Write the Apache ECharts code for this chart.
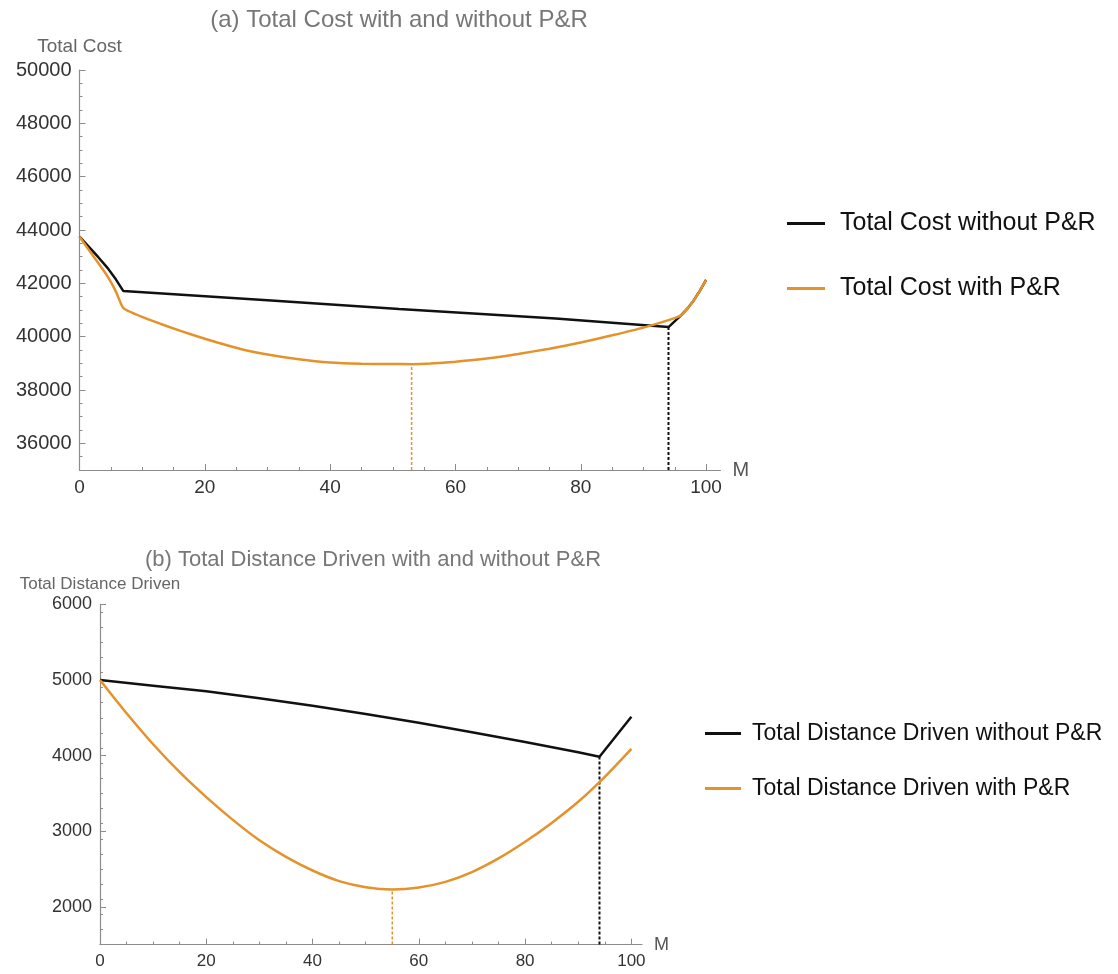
<!DOCTYPE html>
<html>
<head>
<meta charset="utf-8">
<script src="https://cdn.jsdelivr.net/npm/echarts@6/dist/echarts.min.js"></script>
<style>
html,body{margin:0;padding:0;background:#fff;}
#chart{width:1118px;height:974px;}
</style>
</head>
<body>
<div id="chart"></div>
<script>
// ---------- (a) Total Cost ----------
const costM_without = [0, 1.5, 3, 4.5, 5.8, 7, 30, 51, 76, 94, 96, 97, 98, 99, 100];
const cost_without  = [43750, 43370, 42980, 42570, 42150, 41710, 41370, 41040, 40680, 40360, 40800, 41050, 41350, 41720, 42130];
const costM_with = [0, 1.5, 3, 4.5, 5.8, 7, 10, 14, 18, 22, 26, 30, 35, 40, 45, 50, 53, 56, 60, 65, 70, 75, 80, 85, 90, 94, 96, 97, 98, 99, 100];
const cost_with  = [43750, 43250, 42760, 42250, 41700, 41070, 40740, 40390, 40070, 39780, 39520, 39330, 39150, 39030, 38985, 38975, 38970, 38990, 39060, 39180, 39350, 39550, 39780, 40050, 40340, 40620, 40800, 41050, 41350, 41720, 42130];
const costMinWith = [53, 38970];
const costMinWithout = [94, 40360];
const costYRange = [35000, 50000];
const costXRange = [0, 102.3];
const costXTicks = [0, 20, 40, 60, 80, 100];
const costXMinor = [5, 10, 15, 25, 30, 35, 45, 50, 55, 65, 70, 75, 85, 90, 95];
const costYTicks = [36000, 38000, 40000, 42000, 44000, 46000, 48000, 50000];

// ---------- (b) Total Distance Driven ----------
const distM_without = [0, 10, 20, 30, 40, 50, 60, 70, 80, 90, 94, 100];
const dist_without  = [5000, 4925, 4850, 4760, 4660, 4550, 4435, 4310, 4180, 4045, 3985, 4515];
const distM_with = [0, 5, 10, 15, 20, 25, 30, 35, 40, 45, 50, 55, 60, 65, 70, 75, 80, 85, 90, 95, 100];
const dist_with  = [5000, 4560, 4150, 3780, 3450, 3150, 2880, 2660, 2480, 2340, 2260, 2230, 2255, 2330, 2460, 2640, 2860, 3110, 3390, 3720, 4090];
const distMinWith = [55, 2230];
const distMinWithout = [94, 3985];
const distYRange = [1500, 6000];
const distXRange = [0, 102];
const distXTicks = [0, 20, 40, 60, 80, 100];
const distXMinor = [5, 10, 15, 25, 30, 35, 45, 50, 55, 65, 70, 75, 85, 90, 95];
const distYTicks = [2000, 3000, 4000, 5000, 6000];

const names = {
  costWithout: 'Total Cost without P&R',
  costWith: 'Total Cost with P&R',
  distWithout: 'Total Distance Driven without P&R',
  distWith: 'Total Distance Driven with P&R'
};

function minorBetween(range, step, majors) {
  const out = [];
  for (let v = range[0]; v <= range[1] + 1e-9; v += step) {
    if (majors.indexOf(v) < 0) out.push(v);
  }
  return out;
}
const costYMinor = minorBetween(costYRange, 500, costYTicks);
const distYMinor = minorBetween(distYRange, 200, distYTicks);

const zip = (xs, ys) => xs.map((x, i) => [x, ys[i]]);

const AX = '#8c8c8c';
const ORANGE = '#E5922A';
const BLACK = '#111111';
const FONT = 'Liberation Sans, Arial, sans-serif';

function mainX(grid, range, ticks, fs, gap) {
  return {
    type: 'value', gridIndex: grid, position: 'bottom', min: range[0], max: range[1],
    name: 'M', nameLocation: 'end', nameGap: gap,
    nameTextStyle: { color: '#555', fontSize: fs + 1, fontFamily: FONT, verticalAlign: 'middle' },
    axisLine: { show: true, onZero: false, lineStyle: { color: AX, width: 1.2 } },
    axisTick: { show: true, inside: true, length: 6, customValues: ticks, lineStyle: { color: AX } },
    axisLabel: { show: true, customValues: ticks, color: '#333', fontSize: fs, fontFamily: FONT, margin: 8, formatter: v => String(v) },
    splitLine: { show: false }
  };
}
function minorX(grid, range, ticks) {
  return {
    type: 'value', gridIndex: grid, position: 'bottom', min: range[0], max: range[1],
    axisLine: { show: false },
    axisTick: { show: true, inside: true, length: 3, customValues: ticks, lineStyle: { color: AX } },
    axisLabel: { show: false }, splitLine: { show: false }
  };
}
function mainY(grid, range, ticks, name, fs, nfs, gap) {
  return {
    type: 'value', gridIndex: grid, position: 'left', min: range[0], max: range[1],
    name: name, nameLocation: 'end', nameGap: gap,
    nameTextStyle: { color: '#666', fontSize: nfs, fontFamily: FONT, align: 'center' },
    axisLine: { show: true, onZero: false, lineStyle: { color: AX, width: 1.2 } },
    axisTick: { show: true, inside: true, length: 6, customValues: ticks, lineStyle: { color: AX } },
    axisLabel: { show: true, customValues: ticks, color: '#333', fontSize: fs, fontFamily: FONT, margin: 8, formatter: v => String(v) },
    splitLine: { show: false }
  };
}
function minorY(grid, range, ticks) {
  return {
    type: 'value', gridIndex: grid, position: 'left', min: range[0], max: range[1],
    axisLine: { show: false },
    axisTick: { show: true, inside: true, length: 3, customValues: ticks, lineStyle: { color: AX } },
    axisLabel: { show: false }, splitLine: { show: false }
  };
}
function dashed(xi, yi, pt, ymin, color, w) {
  return {
    type: 'line', xAxisIndex: xi, yAxisIndex: yi, symbol: 'none', silent: true, z: 1,
    data: [[pt[0], ymin], [pt[0], pt[1]]],
    lineStyle: { color: color, width: w, type: [3, 2] }
  };
}

const chart = echarts.init(document.getElementById('chart'), null, { renderer: 'canvas' });
chart.setOption({
  animation: false,
  backgroundColor: '#fff',
  title: [
    { text: '(a) Total Cost with and without P&R', left: 394, top: 3, textAlign: 'center',
      textStyle: { color: '#777', fontSize: 24, fontWeight: 'normal', fontFamily: FONT } },
    { text: '(b) Total Distance Driven with and without P&R', left: 368, top: 544, textAlign: 'center',
      textStyle: { color: '#777', fontSize: 22, fontWeight: 'normal', fontFamily: FONT } }
  ],
  legend: [
    { data: [names.costWithout, names.costWith], orient: 'vertical', left: 782, top: 206,
      icon: 'rect', itemWidth: 38, itemHeight: 3, itemGap: 40,
      textStyle: { color: '#111', fontSize: 25, fontFamily: FONT, padding: [0, 0, 0, 10] } },
    { data: [names.distWithout, names.distWith], orient: 'vertical', left: 700, top: 717,
      icon: 'rect', itemWidth: 36, itemHeight: 3, itemGap: 32,
      textStyle: { color: '#111', fontSize: 23, fontFamily: FONT, padding: [0, 0, 0, 6] } }
  ],
  grid: [
    { left: 79.5, top: 70, width: 641, height: 400 },
    { left: 100, top: 604.4, width: 542, height: 340.2 }
  ],
  xAxis: [
    mainX(0, costXRange, costXTicks, 19, 12),
    minorX(0, costXRange, costXMinor),
    mainX(1, distXRange, distXTicks, 17, 12),
    minorX(1, distXRange, distXMinor)
  ],
  yAxis: [
    mainY(0, costYRange, costYTicks, 'Total Cost', 20, 19, 14),
    minorY(0, costYRange, costYMinor),
    mainY(1, distYRange, distYTicks, 'Total Distance Driven', 18, 17, 12),
    minorY(1, distYRange, distYMinor)
  ],
  series: [
    dashed(0, 0, costMinWith, costYRange[0], ORANGE, 1.5),
    dashed(0, 0, costMinWithout, costYRange[0], BLACK, 2),
    { name: names.costWithout, type: 'line', xAxisIndex: 0, yAxisIndex: 0, symbol: 'none', smooth: false, z: 3,
      data: zip(costM_without, cost_without), lineStyle: { color: BLACK, width: 2.5 }, itemStyle: { color: BLACK } },
    { name: names.costWith, type: 'line', xAxisIndex: 0, yAxisIndex: 0, symbol: 'none', smooth: 0.15, z: 4,
      data: zip(costM_with, cost_with), lineStyle: { color: ORANGE, width: 2.5 }, itemStyle: { color: ORANGE } },
    dashed(2, 2, distMinWith, distYRange[0], ORANGE, 1.5),
    dashed(2, 2, distMinWithout, distYRange[0], BLACK, 2),
    { name: names.distWithout, type: 'line', xAxisIndex: 2, yAxisIndex: 2, symbol: 'none', smooth: false, z: 3,
      data: zip(distM_without, dist_without), lineStyle: { color: BLACK, width: 2.5 }, itemStyle: { color: BLACK } },
    { name: names.distWith, type: 'line', xAxisIndex: 2, yAxisIndex: 2, symbol: 'none', smooth: 0.3, z: 4,
      data: zip(distM_with, dist_with), lineStyle: { color: ORANGE, width: 2.5 }, itemStyle: { color: ORANGE } }
  ]
});
</script>
</body>
</html>
